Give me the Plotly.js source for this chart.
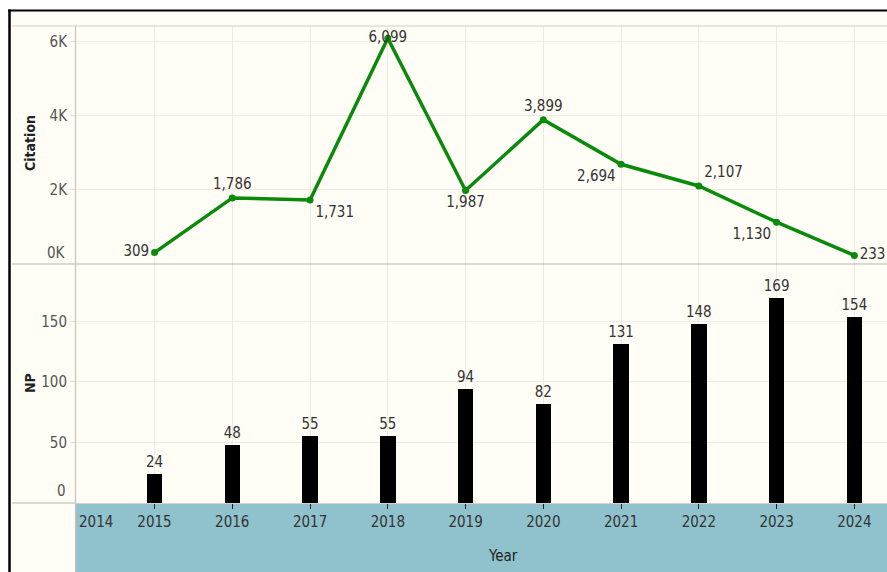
<!DOCTYPE html>
<html>
<head>
<meta charset="utf-8">
<script src="https://cdn.plot.ly/plotly-3.0.1.min.js"></script>
<style>html,body{margin:0;padding:0;background:#fff;}#chart{width:887px;height:572px;}</style>
</head>
<body>
<div id="chart"></div>
<script>
// ---- data ----
const years = [2015, 2016, 2017, 2018, 2019, 2020, 2021, 2022, 2023, 2024];
const citations = [309, 1786, 1731, 6099, 1987, 3899, 2694, 2107, 1130, 233];
const npCounts = [24, 48, 55, 55, 94, 82, 131, 148, 169, 154];
const xTickYears = [2014, 2015, 2016, 2017, 2018, 2019, 2020, 2021, 2022, 2023, 2024];
const citationTicks = [2000, 4000, 6000];
const citationTickText = ['2K', '4K', '6K'];
const npTicks = [50, 100, 150];

// ---- styling ----
const W = 887, H = 572;
const FONT = '"Liberation Sans Narrow", "DejaVu Sans Condensed", Roboto, sans-serif';
const px = v => v / W, py = v => 1 - v / H;
const xl = 76, topY = 26, midY = 264, botY = 503;
const labelPos = ['middle left', 'top center', 'bottom right', 'middle center', 'bottom center',
                  'top center', 'bottom left', 'top right', 'bottom left', 'middle right'];
const fmt = v => v.toLocaleString('en-US');

const lineTrace = {
  type: 'scatter', mode: 'lines+markers+text',
  x: years, y: citations, xaxis: 'x2', yaxis: 'y2',
  text: citations.map(fmt), textposition: labelPos,
  textfont: {family: FONT, size: 15, color: '#333'},
  line: {color: '#0a8a0a', width: 3.5},
  marker: {color: '#0a8a0a', size: 7},
  cliponaxis: false, hoverinfo: 'x+y'
};
const barTrace = {
  type: 'bar', x: years, y: npCounts, xaxis: 'x', yaxis: 'y',
  width: 0.2, marker: {color: '#000'},
  text: npCounts.map(String), textposition: 'outside', constraintext: 'none',
  textfont: {family: FONT, size: 15, color: '#333'},
  outsidetextfont: {family: FONT, size: 15, color: '#333'},
  cliponaxis: false
};

const xRange = [2013.99, 2024.42];
const grid = '#f1e9e3';
const ann = (text, x, y, extra) => Object.assign({
  text, xref: 'paper', yref: 'paper', x: px(x), y: py(y),
  xanchor: 'center', yanchor: 'middle', showarrow: false,
  font: {family: FONT, size: 15, color: '#555'}
}, extra || {});
const layout = {
  width: W, height: H,
  margin: {l: 0, r: 0, t: 0, b: 0},
  paper_bgcolor: '#fff', plot_bgcolor: 'rgba(0,0,0,0)',
  showlegend: false, bargap: 0,
  font: {family: FONT, size: 15, color: '#555'},
  xaxis: {
    domain: [px(xl), 1], range: xRange, anchor: 'y',
    tickvals: xTickYears.slice(1), ticktext: xTickYears.slice(1).map(String),
    ticks: 'outside', ticklen: 5, tickcolor: '#222', tickwidth: 1,
    tickfont: {family: FONT, size: 15, color: '#333'},
    showgrid: true, gridcolor: grid, zeroline: false,
    showline: true, linecolor: '#d6d0c8', linewidth: 1
  },
  xaxis2: {
    domain: [px(xl), 1], range: xRange, anchor: 'y2', matches: 'x',
    tickvals: xTickYears, showticklabels: false, ticks: '',
    showgrid: true, gridcolor: grid, zeroline: false, showline: false
  },
  yaxis: {
    domain: [py(botY), py(midY)], range: [0, 197.5], anchor: 'x',
    tickvals: npTicks, ticks: 'outside', ticklen: 5, tickcolor: '#ddd',
    tickfont: {family: FONT, size: 15, color: '#555'},
    showgrid: true, gridcolor: grid, zeroline: false, showline: false
  },
  yaxis2: {
    domain: [py(midY), py(topY)], range: [0, 6430], anchor: 'x2',
    tickvals: citationTicks, ticktext: citationTickText,
    ticks: 'outside', ticklen: 5, tickcolor: '#ddd',
    tickfont: {family: FONT, size: 15, color: '#555'},
    showgrid: true, gridcolor: grid, zeroline: false, showline: false
  },
  shapes: [
    {type: 'rect', xref: 'paper', yref: 'paper', x0: px(9), x1: 1, y0: 0, y1: py(10),
     fillcolor: '#fffdf6', line: {width: 0}, layer: 'below'},
    {type: 'rect', xref: 'paper', yref: 'paper', x0: px(xl), x1: 1, y0: 0, y1: py(botY),
     fillcolor: '#8fc2cc', line: {width: 0}, layer: 'below'},
    {type: 'line', xref: 'paper', yref: 'paper', x0: px(12), x1: 1, y0: py(topY), y1: py(topY),
     line: {color: '#e2ddd6', width: 1.5}},
    {type: 'line', xref: 'paper', yref: 'paper', x0: px(12), x1: 1, y0: py(midY), y1: py(midY),
     line: {color: '#b9b4ae', width: 1.2}},
    {type: 'line', xref: 'paper', yref: 'paper', x0: px(12), x1: px(xl), y0: py(botY), y1: py(botY),
     line: {color: '#b9b4ae', width: 1.2}},
    {type: 'line', xref: 'paper', yref: 'paper', x0: px(xl - 0.5), x1: px(xl - 0.5), y0: 0, y1: py(topY),
     line: {color: '#c8c2bb', width: 1.2}},
    {type: 'line', xref: 'paper', yref: 'paper', x0: px(9.5), x1: px(9.5), y0: 0, y1: py(9.5),
     line: {color: '#000', width: 2.5}},
    {type: 'line', xref: 'paper', yref: 'paper', x0: px(8), x1: 1, y0: py(10.5), y1: py(10.5),
     line: {color: '#000', width: 2}}
  ],
  annotations: [
    ann('<b>Citation</b>', 30, 143, {textangle: -90, font: {family: FONT, size: 14, color: '#222'}}),
    ann('<b>NP</b>', 30, 383, {textangle: -90, font: {family: FONT, size: 14, color: '#222'}}),
    ann('0K', 68, 253, {xanchor: 'right'}),
    ann('0', 68, 491, {xanchor: 'right'}),
    ann(String(xTickYears[0]), 77, 522, {xanchor: 'left', font: {family: FONT, size: 15, color: '#333'}}),
    ann('Year', 503, 556, {font: {family: FONT, size: 15, color: '#222'}})
  ]
};

Plotly.newPlot('chart', [barTrace, lineTrace], layout, {displayModeBar: false, staticPlot: true});
</script>
</body>
</html>
